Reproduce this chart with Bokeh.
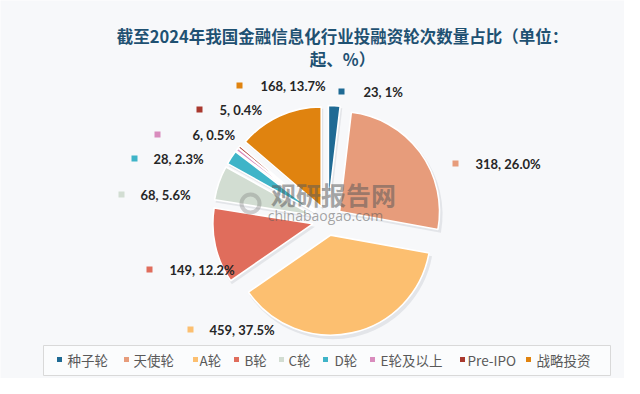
import numpy as np
from bokeh.plotting import figure
from bokeh.models import Range1d
from bokeh.core.properties import value
from bokeh.embed import file_html
from bokeh.resources import INLINE

# ---------------- data ----------------
categories = ["种子轮", "天使轮", "A轮", "B轮", "C轮", "D轮", "E轮及以上", "Pre-IPO", "战略投资"]
counts = [23, 318, 459, 149, 68, 28, 6, 5, 168]
pct_labels = ["1%", "26.0%", "37.5%", "12.2%", "5.6%", "2.3%", "0.5%", "0.4%", "13.7%"]
colors = ["#1f6a94", "#e79c7b", "#fcbf70", "#e06d5c", "#d2ddd2", "#3fb4c8",
          "#d98cbd", "#a9392e", "#e0830f"]
title_lines = ["截至2024年我国金融信息化行业投融资轮次数量占比（单位：", "起、%）"]

# ---------------- layout (screen px) ----------------
W, H = 624, 378
def Y(sy):
    return 394 - sy

cx, cy, R, EXPLODE = 327, 220, 100, 15
label_marker_pos = [(341, 91), (455, 163), (190, 329), (149, 269), (121, 194),
                    (134, 158), (157, 134), (199, 109), (239, 85)]
label_text_dx = [22, 20, 19, 20, 19, 19, 35, 20, 21]
legend_marker_x = [59, 126, 195, 236, 281, 325, 372, 462, 528]
legend_text_x = [67, 133, 199, 244, 288, 334, 380, 467, 536]
legend_y = 359

p = figure(width=W, height=H, output_backend="svg", toolbar_location=None,
           x_range=Range1d(0, W), y_range=Range1d(Y(H), Y(0)),
           min_border=0, background_fill_color="#f7f8fa", border_fill_color="#f7f8fa")
p.axis.visible = False
p.grid.visible = False
p.outline_line_color = None

# ---------------- pie ----------------
total = float(sum(counts))
cum = np.concatenate([[0.0], np.cumsum(counts)]) / total * 2 * np.pi  # clockwise from top
t1, t2 = cum[:-1], cum[1:]
mid = (t1 + t2) / 2
xs = cx + EXPLODE * np.sin(mid)
ys = Y(cy) + EXPLODE * np.cos(mid)
start = np.pi / 2 - t2
end = np.pi / 2 - t1

# shadow
p.wedge(x=xs + 2, y=ys - 3, radius=R + 1, start_angle=start, end_angle=end,
        fill_color="#8a8f99", fill_alpha=0.18, line_color=None)
p.wedge(x=xs, y=ys, radius=R, start_angle=start, end_angle=end,
        fill_color=colors, line_color="white", line_width=1.6)

# ---------------- watermark ----------------
p.text(x=[333], y=[Y(193)], text=["观研报告网"], text_align="center", text_baseline="middle",
       text_font=value("Noto Sans CJK SC"), text_font_style="bold", text_font_size="25px",
       text_color="#5a5a5a", text_alpha=0.55)
p.text(x=[325], y=[Y(215)], text=["chinabaogao.com"], text_align="center", text_baseline="middle",
       text_font=value("Open Sans"), text_font_size="14px",
       text_color="#5a5a5a", text_alpha=0.55)
p.annulus(x=[250], y=[Y(203)], inner_radius=7, outer_radius=11,
          fill_color="#7a7a7a", fill_alpha=0.35, line_color=None)

# ---------------- data labels ----------------
lx = [a for a, b in label_marker_pos]
ly = [Y(b) for a, b in label_marker_pos]
p.rect(x=lx, y=ly, width=6, height=6, fill_color=colors, line_color=None)
p.text(x=[a + d for a, d in zip(lx, label_text_dx)], y=ly,
       text=[f"{c}, {s}" for c, s in zip(counts, pct_labels)],
       text_align="left", text_baseline="middle",
       text_font=value("Lato"), text_font_style="bold", text_font_size="13px",
       text_color="#262626")

# ---------------- title ----------------
p.text(x=[342, 342], y=[Y(35), Y(58)], text=title_lines, text_align="center",
       text_baseline="middle", text_font=value("Noto Sans CJK SC"), text_font_style="bold",
       text_font_size="16.5px", text_color="#1f5172")

# ---------------- legend ----------------
p.quad(left=[43], right=[610], bottom=[Y(375)], top=[Y(345)],
       fill_color="#fbfcfd", line_color="#d9d9d9", line_width=1)
p.rect(x=legend_marker_x, y=[Y(legend_y)] * 9, width=5, height=5,
       fill_color=colors, line_color=None)
p.text(x=legend_text_x, y=[Y(legend_y)] * 9, text=categories, text_align="left",
       text_baseline="middle", text_font=value("Noto Sans CJK SC"), text_font_size="13.5px",
       text_color="#595959")

open("out.html", "w").write(file_html(p, INLINE))
